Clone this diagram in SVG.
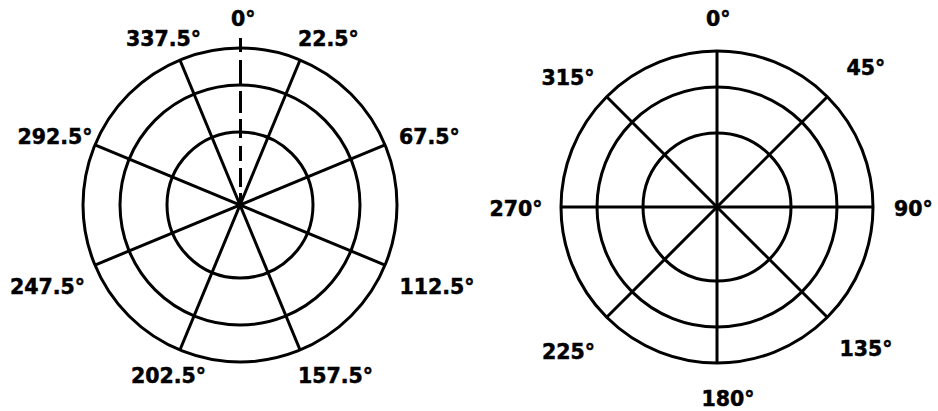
<svg xmlns="http://www.w3.org/2000/svg" width="938" height="411" viewBox="0 0 938 411">
  <style>
    .ring { fill: none; stroke: #000; stroke-width: 3; }
    .spoke { stroke: #000; stroke-width: 3; fill: none; stroke-linecap: butt; }
    .lbl { font-family: "DejaVu Sans", "Liberation Sans", sans-serif; font-weight: bold; font-size: 20.5px; fill: #000; stroke: #000; stroke-width: 0.5; }
  </style>
  <rect width="938" height="411" fill="#fff"/>

  <g id="chart-left">
    <g id="left-rings">
      <circle class="ring" cx="240" cy="205" r="157"/>
      <circle class="ring" cx="240" cy="205" r="120"/>
      <circle class="ring" cx="240" cy="205" r="73"/>
    </g>
    <g id="left-spokes">
      <line class="spoke" x1="300.08" y1="59.95" x2="179.92" y2="350.05"/>
      <line class="spoke" x1="385.05" y1="144.92" x2="94.95" y2="265.08"/>
      <line class="spoke" x1="385.05" y1="265.08" x2="94.95" y2="144.92"/>
      <line class="spoke" x1="300.08" y1="350.05" x2="179.92" y2="59.95"/>
      <path class="spoke" d="M240.5 38 V52 M240.5 60 V84 M240.5 91 V113 M240.5 119 V138 M240.5 146 V161 M240.5 168 V187 M240.5 193 V205"/>
    </g>
    <g id="left-labels">
      <text class="lbl" x="231" y="25.7">0°</text>
      <text class="lbl" x="126" y="45.7">337.5°</text>
      <text class="lbl" x="298" y="45.7">22.5°</text>
      <text class="lbl" x="17.5" y="144">292.5°</text>
      <text class="lbl" x="399" y="144">67.5°</text>
      <text class="lbl" x="10" y="294.3">247.5°</text>
      <text class="lbl" x="399.5" y="294.3">112.5°</text>
      <text class="lbl" x="131" y="383.3">202.5°</text>
      <text class="lbl" x="298" y="383.3">157.5°</text>
    </g>
  </g>

  <g id="chart-right">
    <g id="right-rings">
      <circle class="ring" cx="717" cy="207" r="156"/>
      <circle class="ring" cx="717" cy="207" r="120"/>
      <circle class="ring" cx="717" cy="207" r="74"/>
    </g>
    <g id="right-spokes">
      <line class="spoke" x1="717" y1="51" x2="717" y2="363"/>
      <line class="spoke" x1="561" y1="207" x2="873" y2="207"/>
      <line class="spoke" x1="606.69" y1="96.69" x2="827.31" y2="317.31"/>
      <line class="spoke" x1="827.31" y1="96.69" x2="606.69" y2="317.31"/>
    </g>
    <g id="right-labels">
      <text class="lbl" x="706" y="26">0°</text>
      <text class="lbl" x="846.5" y="75">45°</text>
      <text class="lbl" x="541.5" y="85">315°</text>
      <text class="lbl" x="489.5" y="215.7">270°</text>
      <text class="lbl" x="894" y="215.7">90°</text>
      <text class="lbl" x="542" y="359.3">225°</text>
      <text class="lbl" x="839.5" y="356">135°</text>
      <text class="lbl" x="701.5" y="405.5">180°</text>
    </g>
  </g>
</svg>
